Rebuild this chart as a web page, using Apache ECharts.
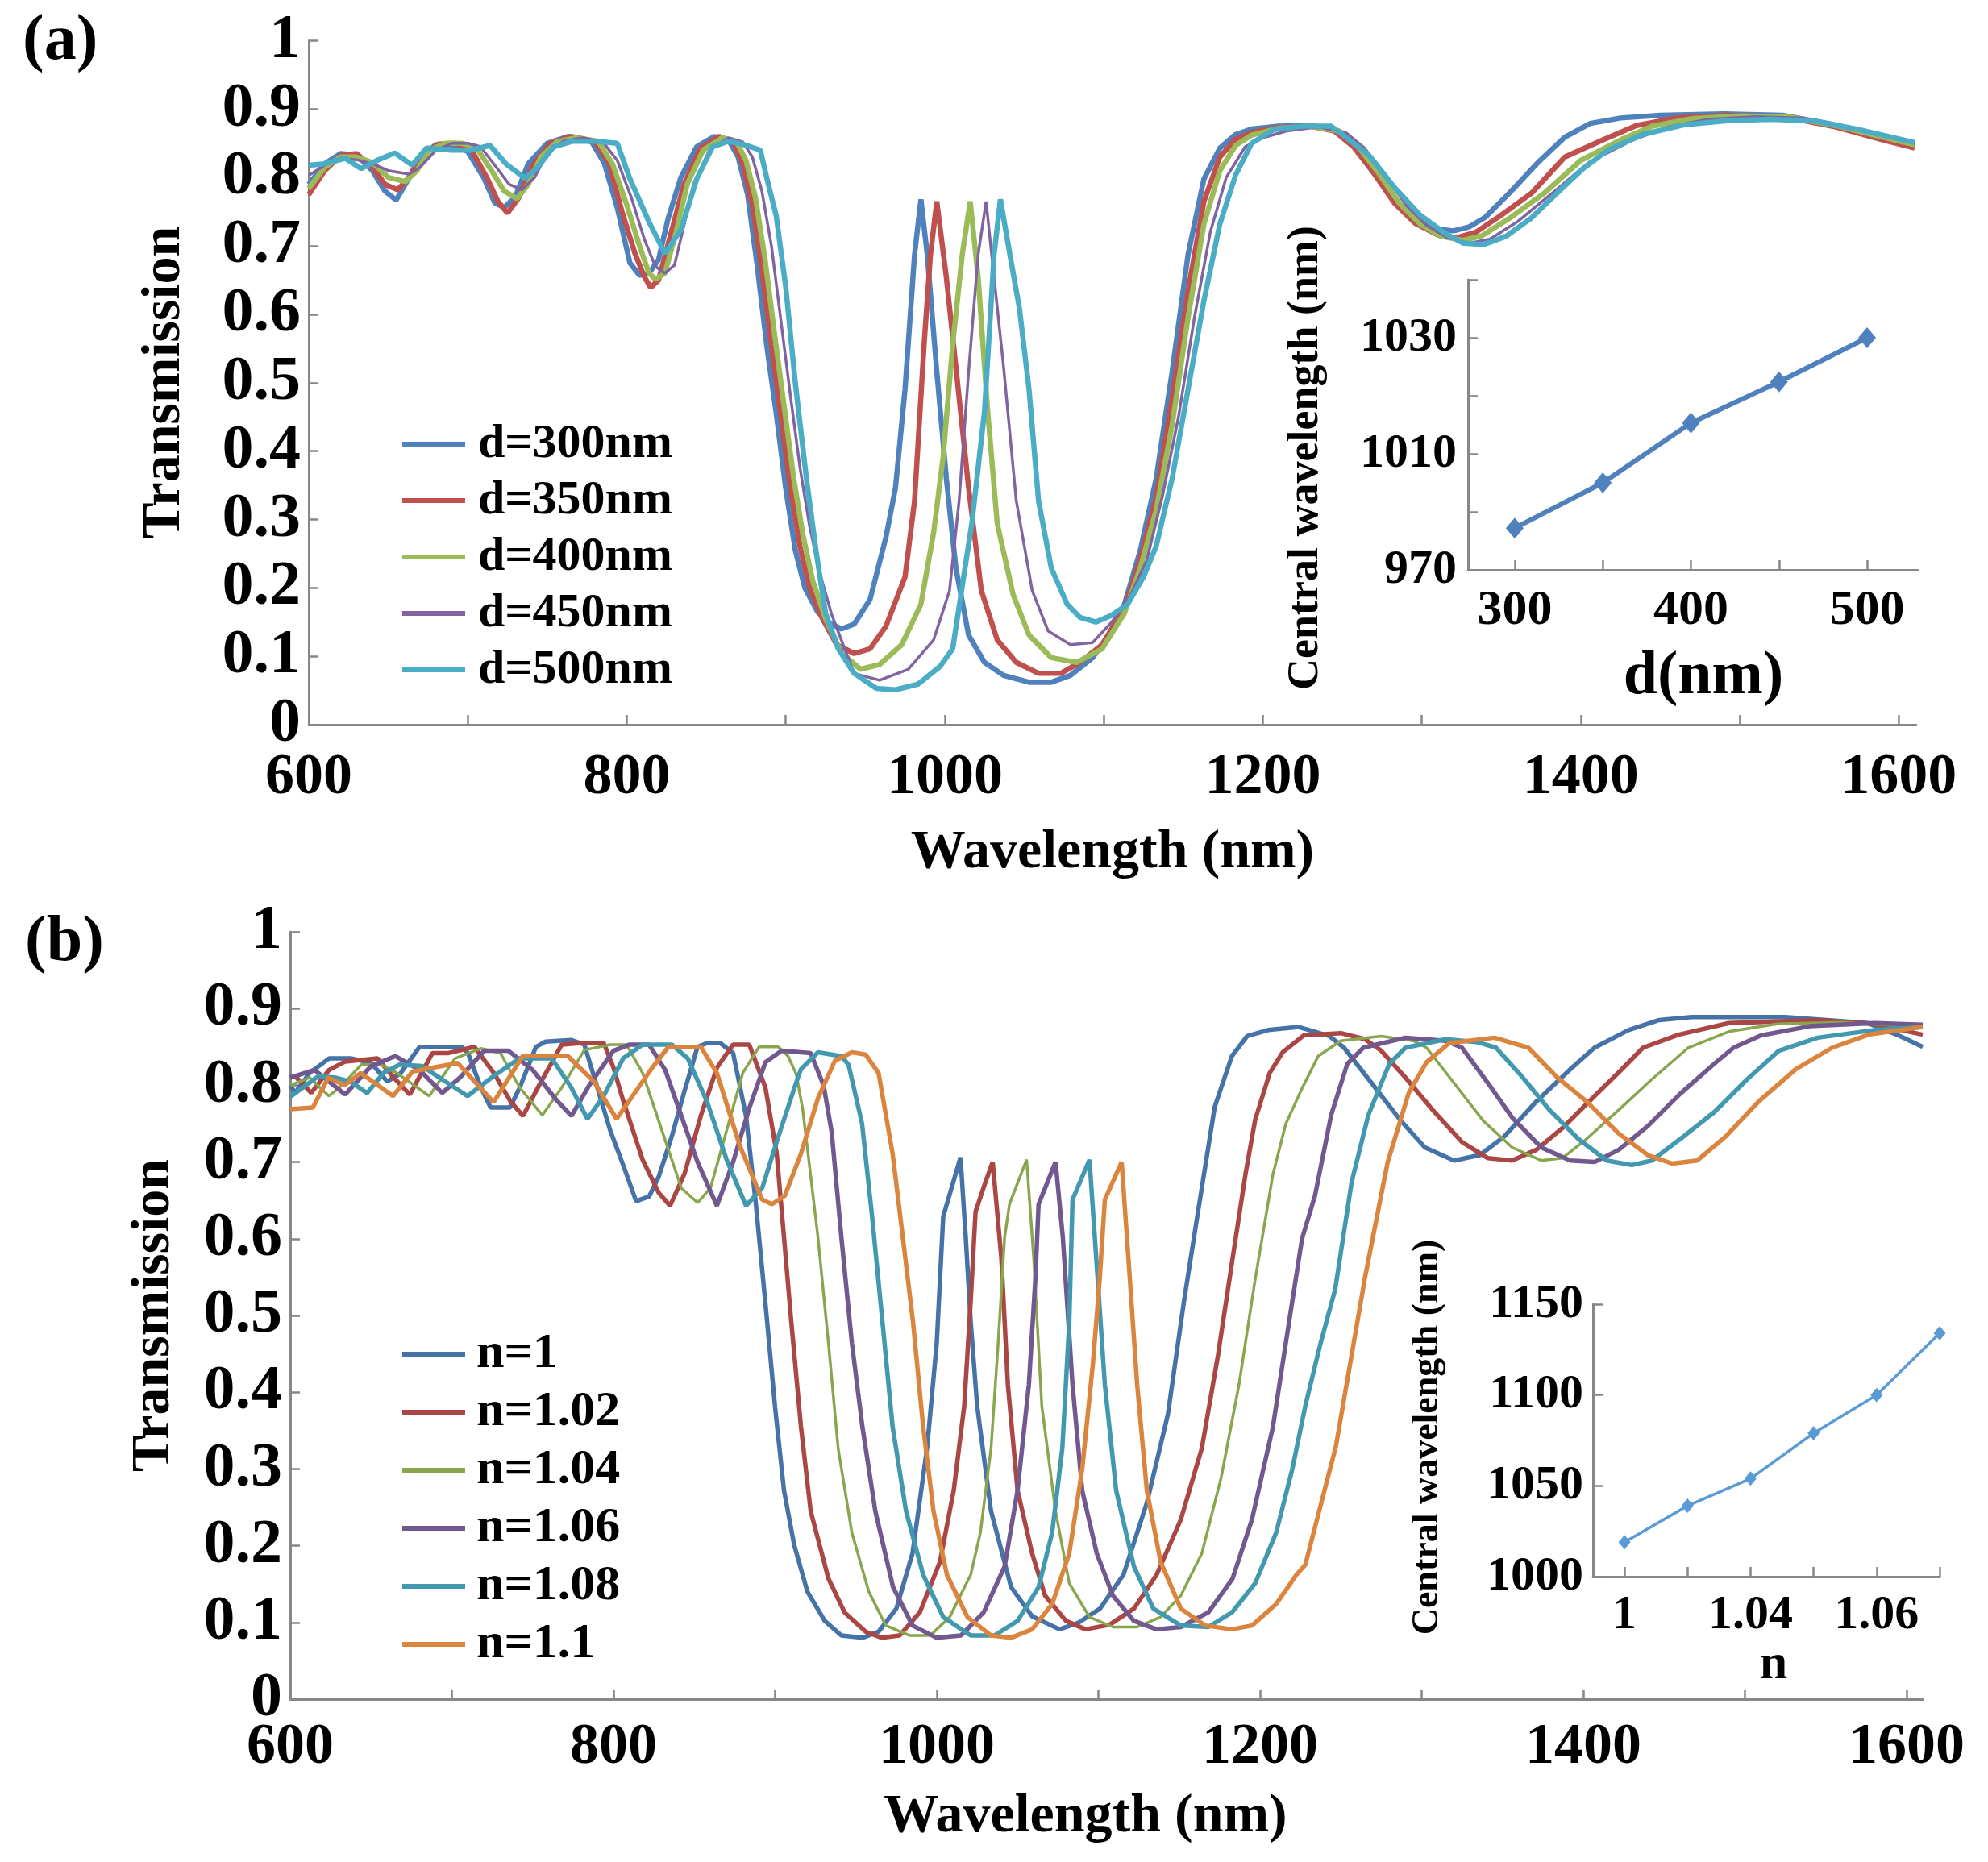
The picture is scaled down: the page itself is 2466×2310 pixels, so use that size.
<!DOCTYPE html>
<html><head><meta charset="utf-8">
<script src="https://cdn.jsdelivr.net/npm/echarts@6/dist/echarts.min.js"></script>
<style>html,body{margin:0;padding:0;background:#fff}#c{width:2466px;height:2310px}</style>
</head><body><div id="c"></div>
<script>
// ---------- Panel (a): transmission vs wavelength for different d ----------
const a_d300 = [[600,0.79],[610,0.82],[620,0.835],[630,0.833],[640,0.81],[648,0.78],[655,0.767],[662,0.795],[670,0.83],[680,0.848],[690,0.848],[700,0.838],[710,0.80],[717,0.763],[723,0.756],[730,0.772],[738,0.82],[750,0.85],[763,0.86],[778,0.852],[786,0.82],[794,0.756],[802,0.675],[808,0.657],[814,0.66],[820,0.68],[826,0.74],[834,0.80],[844,0.845],[855,0.86],[864,0.855],[870,0.83],[876,0.775],[882,0.672],[888,0.555],[894,0.455],[900,0.345],[906,0.255],[912,0.20],[920,0.165],[928,0.148],[935,0.14],[943,0.147],[953,0.183],[963,0.274],[969,0.346],[975,0.49],[981,0.687],[985,0.768],[989,0.687],[995,0.516],[1001,0.36],[1007,0.229],[1015,0.131],[1025,0.091],[1037,0.072],[1053,0.062],[1067,0.062],[1079,0.072],[1093,0.098],[1103,0.131],[1113,0.176],[1123,0.255],[1133,0.36],[1143,0.516],[1153,0.687],[1163,0.798],[1173,0.843],[1183,0.863],[1193,0.871],[1210,0.875],[1230,0.876],[1245,0.87],[1258,0.845],[1270,0.806],[1283,0.765],[1296,0.737],[1308,0.725],[1320,0.722],[1330,0.728],[1340,0.742],[1355,0.777],[1374,0.824],[1390,0.859],[1406,0.879],[1425,0.887],[1450,0.891],[1490,0.893],[1527,0.891],[1560,0.877],[1586,0.861],[1610,0.85]];
const a_d350 = [[600,0.775],[610,0.81],[620,0.832],[630,0.835],[640,0.815],[648,0.79],[656,0.782],[663,0.80],[672,0.835],[682,0.849],[692,0.85],[702,0.842],[712,0.80],[719,0.765],[725,0.748],[732,0.77],[740,0.815],[752,0.85],[765,0.86],[780,0.853],[789,0.82],[797,0.75],[805,0.69],[811,0.655],[815,0.639],[820,0.65],[828,0.72],[836,0.79],[846,0.842],[858,0.86],[867,0.852],[873,0.82],[879,0.76],[885,0.665],[891,0.555],[897,0.45],[903,0.345],[909,0.26],[915,0.20],[922,0.16],[932,0.117],[943,0.104],[953,0.111],[963,0.144],[975,0.216],[981,0.327],[987,0.556],[991,0.687],[995,0.765],[1001,0.654],[1007,0.523],[1015,0.346],[1023,0.196],[1033,0.124],[1045,0.091],[1059,0.075],[1073,0.075],[1085,0.091],[1099,0.117],[1113,0.17],[1123,0.242],[1133,0.333],[1143,0.477],[1153,0.634],[1163,0.765],[1173,0.83],[1183,0.856],[1193,0.866],[1210,0.873],[1230,0.875],[1245,0.868],[1257,0.845],[1270,0.806],[1283,0.762],[1296,0.733],[1310,0.716],[1322,0.712],[1334,0.72],[1350,0.745],[1369,0.777],[1390,0.83],[1414,0.855],[1435,0.876],[1460,0.887],[1490,0.891],[1527,0.889],[1560,0.874],[1590,0.855],[1610,0.843]];
const a_d400 = [[600,0.784],[610,0.815],[620,0.83],[630,0.83],[640,0.822],[650,0.80],[661,0.794],[668,0.81],[676,0.84],[686,0.85],[696,0.85],[705,0.845],[715,0.81],[723,0.78],[731,0.769],[738,0.79],[746,0.83],[756,0.852],[768,0.858],[782,0.853],[791,0.82],[800,0.76],[808,0.70],[814,0.66],[818,0.651],[824,0.66],[831,0.72],[838,0.79],[848,0.84],[860,0.858],[869,0.852],[875,0.825],[881,0.77],[887,0.68],[893,0.57],[899,0.465],[905,0.36],[911,0.275],[917,0.21],[925,0.155],[935,0.105],[947,0.081],[959,0.088],[973,0.117],[985,0.176],[993,0.281],[999,0.392],[1005,0.556],[1011,0.687],[1016,0.765],[1021,0.654],[1027,0.458],[1033,0.294],[1043,0.19],[1053,0.131],[1067,0.098],[1083,0.091],[1099,0.111],[1113,0.163],[1123,0.229],[1133,0.314],[1143,0.438],[1153,0.595],[1163,0.732],[1173,0.81],[1183,0.847],[1193,0.862],[1210,0.872],[1230,0.875],[1248,0.868],[1260,0.845],[1273,0.806],[1286,0.762],[1299,0.732],[1312,0.714],[1326,0.708],[1338,0.715],[1355,0.74],[1377,0.777],[1400,0.825],[1425,0.855],[1445,0.875],[1470,0.886],[1500,0.89],[1530,0.889],[1560,0.876],[1590,0.859],[1610,0.848]];
const a_d450 = [[600,0.803],[610,0.818],[620,0.828],[630,0.826],[640,0.82],[650,0.81],[663,0.805],[670,0.815],[680,0.84],[690,0.85],[700,0.85],[708,0.845],[718,0.815],[726,0.79],[734,0.782],[742,0.80],[750,0.835],[760,0.853],[772,0.858],[785,0.852],[794,0.825],[803,0.77],[811,0.71],[818,0.67],[824,0.66],[830,0.672],[836,0.73],[842,0.79],[852,0.84],[864,0.858],[873,0.852],[879,0.83],[885,0.78],[891,0.70],[897,0.59],[903,0.48],[909,0.375],[915,0.29],[921,0.225],[929,0.16],[943,0.075],[959,0.065],[977,0.081],[993,0.124],[1003,0.196],[1009,0.327],[1015,0.516],[1021,0.687],[1026,0.765],[1031,0.654],[1037,0.523],[1045,0.327],[1055,0.196],[1065,0.137],[1079,0.117],[1093,0.12],[1105,0.15],[1117,0.19],[1127,0.24],[1137,0.335],[1147,0.45],[1157,0.595],[1167,0.72],[1177,0.80],[1189,0.845],[1200,0.858],[1215,0.868],[1235,0.874],[1252,0.866],[1264,0.843],[1277,0.804],[1290,0.76],[1303,0.73],[1316,0.712],[1330,0.704],[1343,0.71],[1360,0.735],[1382,0.777],[1405,0.822],[1433,0.855],[1455,0.874],[1480,0.885],[1510,0.889],[1540,0.887],[1570,0.872],[1610,0.85]];
const a_d500 = [[600,0.818],[610,0.82],[623,0.828],[633,0.813],[643,0.825],[654,0.836],[665,0.818],[674,0.843],[690,0.84],[702,0.84],[714,0.847],[724,0.82],[736,0.799],[744,0.815],[754,0.845],[766,0.853],[780,0.853],[794,0.85],[802,0.798],[814,0.735],[824,0.689],[834,0.723],[844,0.798],[854,0.845],[864,0.853],[874,0.848],[884,0.84],[888,0.80],[894,0.744],[900,0.64],[906,0.50],[913,0.36],[919,0.255],[925,0.163],[933,0.111],[943,0.075],[957,0.053],[969,0.051],[983,0.059],[997,0.085],[1005,0.111],[1017,0.294],[1025,0.458],[1031,0.687],[1035,0.768],[1041,0.687],[1047,0.608],[1053,0.49],[1059,0.327],[1067,0.229],[1077,0.176],[1085,0.157],[1095,0.15],[1105,0.16],[1115,0.176],[1125,0.216],[1133,0.261],[1143,0.36],[1153,0.49],[1163,0.62],[1173,0.732],[1183,0.804],[1193,0.85],[1207,0.87],[1225,0.875],[1243,0.875],[1250,0.863],[1267,0.832],[1283,0.785],[1299,0.745],[1315,0.718],[1326,0.704],[1339,0.702],[1353,0.714],[1369,0.741],[1385,0.777],[1401,0.812],[1417,0.84],[1439,0.863],[1465,0.877],[1492,0.883],[1519,0.885],[1546,0.883],[1573,0.871],[1610,0.851]];

// ---------- Panel (b): transmission vs wavelength for different n ----------
const b_n100 = [[600,0.80],[603,0.79],[612,0.816],[624,0.835],[638,0.835],[650,0.829],[660,0.805],[668,0.815],[680,0.85],[706,0.85],[710,0.842],[718,0.797],[724,0.771],[736,0.771],[742,0.797],[752,0.85],[758,0.857],[774,0.859],[782,0.853],[790,0.797],[798,0.741],[806,0.696],[814,0.649],[822,0.655],[828,0.681],[836,0.733],[844,0.793],[852,0.85],[858,0.855],[866,0.855],[874,0.842],[882,0.76],[888,0.647],[894,0.516],[900,0.38],[905.5,0.272],[911.8,0.201],[920,0.14],[930.7,0.102],[941,0.083],[954,0.08],[964,0.088],[975,0.118],[985,0.19],[994,0.327],[1000,0.464],[1004,0.629],[1014.7,0.706],[1018,0.60],[1021,0.492],[1025,0.382],[1033.6,0.245],[1046,0.146],[1059,0.108],[1076,0.091],[1088,0.1],[1101,0.118],[1115.5,0.162],[1130,0.256],[1143,0.371],[1153,0.519],[1162,0.64],[1172,0.772],[1182.6,0.838],[1192,0.864],[1205,0.872],[1224,0.876],[1243,0.864],[1252,0.849],[1269,0.803],[1287,0.754],[1302,0.719],[1320,0.702],[1336,0.709],[1351,0.733],[1371,0.779],[1392,0.821],[1407,0.849],[1428,0.872],[1447,0.885],[1467,0.889],[1525,0.889],[1576,0.881],[1595,0.865],[1610,0.85]];
const b_n102 = [[600,0.81],[603,0.812],[613,0.79],[624,0.82],[634,0.831],[654,0.835],[664,0.81],[674,0.788],[688,0.842],[698,0.842],[714,0.85],[726,0.816],[736,0.78],[744,0.76],[754,0.80],[768,0.853],[780,0.855],[794,0.855],[800,0.823],[806,0.78],[818,0.703],[828,0.66],[835,0.643],[844,0.685],[854,0.76],[864,0.823],[874,0.853],[884,0.853],[894,0.797],[901,0.711],[905.5,0.602],[910,0.492],[916,0.355],[922,0.245],[933,0.157],[943,0.113],[956,0.088],[966,0.08],[977,0.083],[989.5,0.113],[1002,0.179],[1010.5,0.272],[1017,0.382],[1021,0.519],[1024,0.635],[1029,0.667],[1034.6,0.70],[1040,0.574],[1044,0.41],[1050,0.272],[1059,0.19],[1067,0.135],[1080,0.102],[1092,0.091],[1107,0.097],[1122,0.118],[1136,0.162],[1151,0.234],[1164,0.327],[1174,0.448],[1183,0.574],[1191,0.684],[1197,0.755],[1206,0.816],[1214,0.843],[1227,0.865],[1250,0.868],[1265,0.86],[1275,0.845],[1290,0.81],[1308,0.765],[1325,0.726],[1341,0.705],[1356,0.702],[1371,0.716],[1387,0.744],[1407,0.786],[1422,0.817],[1437,0.849],[1459,0.866],[1490,0.881],[1545,0.885],[1580,0.88],[1610,0.866]];
const b_n104 = [[600,0.80],[612,0.81],[624,0.786],[632,0.80],[644,0.827],[656,0.827],[666,0.816],[686,0.786],[702,0.835],[718,0.848],[730,0.842],[742,0.797],[756,0.761],[768,0.797],[782,0.846],[798,0.853],[808,0.853],[818,0.816],[830,0.741],[842,0.666],[852,0.647],[860,0.666],[870,0.741],[880,0.816],[890,0.85],[902,0.85],[908,0.838],[913,0.815],[917,0.77],[921,0.70],[926.5,0.602],[933,0.464],[939,0.327],[947.5,0.217],[958,0.14],[968.5,0.096],[983,0.083],[996,0.083],[1008,0.107],[1021,0.162],[1027,0.217],[1033.6,0.327],[1038,0.464],[1042,0.602],[1045,0.645],[1055.6,0.703],[1060,0.574],[1065,0.382],[1073.5,0.245],[1082,0.151],[1094.5,0.107],[1109,0.094],[1124,0.094],[1138.5,0.107],[1151,0.135],[1164,0.19],[1176,0.289],[1187,0.41],[1197,0.547],[1208,0.684],[1216,0.75],[1226,0.796],[1236,0.838],[1250,0.858],[1275,0.864],[1295,0.858],[1303,0.849],[1320,0.803],[1338,0.754],[1356,0.719],[1374,0.702],[1387,0.705],[1402,0.73],[1422,0.768],[1442,0.807],[1465,0.849],[1490,0.87],[1520,0.88],[1560,0.882],[1610,0.876]];
const b_n106 = [[600,0.81],[615,0.82],[634,0.788],[650,0.825],[665,0.838],[680,0.82],[694,0.79],[705,0.81],[720,0.845],[735,0.845],[750,0.82],[765,0.78],[774,0.76],[785,0.80],[800,0.845],[810,0.853],[822,0.853],[832,0.82],[842,0.76],[852,0.70],[864,0.643],[874,0.70],[884,0.77],[894,0.83],[904,0.845],[922,0.842],[930,0.80],[935,0.739],[941,0.602],[947.5,0.464],[954,0.355],[962,0.245],[973,0.146],[985,0.096],[1000,0.08],[1015,0.083],[1029,0.113],[1042,0.173],[1050,0.272],[1057,0.41],[1061,0.547],[1063,0.645],[1073.5,0.70],[1078,0.602],[1084,0.41],[1090,0.272],[1099,0.19],[1109,0.135],[1122,0.102],[1136,0.091],[1151,0.094],[1168,0.113],[1183,0.157],[1195,0.234],[1208,0.355],[1218,0.492],[1226,0.60],[1234,0.656],[1244,0.761],[1254,0.828],[1264,0.849],[1290,0.862],[1315,0.858],[1325,0.849],[1341,0.803],[1356,0.758],[1374,0.719],[1392,0.702],[1407,0.70],[1422,0.716],[1440,0.747],[1460,0.789],[1481,0.828],[1493,0.849],[1510,0.865],[1540,0.877],[1580,0.881],[1610,0.879]];
const b_n108 = [[600,0.785],[617.5,0.812],[628,0.81],[637,0.805],[647.6,0.79],[657.6,0.816],[667.6,0.827],[681.7,0.825],[693.7,0.808],[709.7,0.786],[725.8,0.812],[741.8,0.835],[761.8,0.835],[773.9,0.797],[783.9,0.756],[793.9,0.786],[806,0.835],[818,0.853],[836,0.853],[846,0.835],[858,0.778],[870,0.703],[882,0.643],[892,0.666],[902,0.733],[912,0.797],[916,0.821],[926.5,0.843],[941,0.838],[945.4,0.827],[953.8,0.75],[960,0.629],[966.4,0.492],[972.7,0.355],[981,0.245],[991.6,0.162],[1004,0.107],[1021,0.083],[1035.7,0.083],[1050,0.102],[1063,0.146],[1071.4,0.217],[1077.7,0.327],[1082,0.492],[1084,0.651],[1094.5,0.703],[1098.7,0.574],[1104,0.41],[1111,0.272],[1122,0.173],[1134,0.118],[1151,0.096],[1168,0.094],[1182.6,0.113],[1197,0.151],[1210,0.217],[1220,0.30],[1228,0.382],[1237,0.46],[1246.5,0.534],[1256.7,0.674],[1267,0.761],[1280,0.828],[1290,0.849],[1315,0.86],[1335,0.856],[1346,0.849],[1361,0.814],[1379,0.768],[1397,0.73],[1414.5,0.702],[1430,0.696],[1442.5,0.702],[1460,0.73],[1481,0.765],[1501,0.807],[1521,0.845],[1545,0.862],[1580,0.872],[1610,0.876]];
const b_n110 = [[600,0.769],[614,0.771],[623.6,0.81],[633.6,0.80],[643.6,0.816],[663.6,0.786],[675.7,0.818],[703.7,0.829],[725.8,0.778],[743.8,0.838],[771.8,0.838],[787.9,0.805],[801.9,0.756],[824,0.823],[834,0.85],[854,0.85],[864,0.816],[878,0.722],[892,0.651],[898,0.645],[906,0.656],[916,0.711],[926.5,0.783],[937,0.832],[947.5,0.843],[956,0.84],[964,0.816],[972.7,0.711],[979,0.602],[985.3,0.492],[991.6,0.355],[998,0.245],[1006.3,0.162],[1019,0.107],[1033.6,0.083],[1046,0.08],[1059,0.091],[1071.4,0.124],[1082,0.19],[1090,0.30],[1096.6,0.437],[1100.8,0.547],[1104,0.651],[1114.4,0.70],[1118.6,0.574],[1124,0.41],[1130,0.272],[1138.5,0.179],[1151,0.118],[1166,0.096],[1182.6,0.091],[1195,0.096],[1210,0.124],[1222.5,0.162],[1228,0.175],[1247,0.33],[1265,0.55],[1279,0.70],[1292,0.79],[1303,0.83],[1317,0.855],[1345,0.862],[1366,0.849],[1384,0.81],[1402,0.779],[1422,0.737],[1440,0.709],[1455,0.698],[1470.5,0.702],[1488,0.733],[1508.6,0.779],[1531.5,0.821],[1554,0.849],[1576.5,0.866],[1610,0.876]];

// ---------- Insets ----------
const insetA_d = [300, 350, 400, 450, 500];
const insetA_lambda = [997.2, 1005, 1015.3, 1022.4, 1030];
const insetB_n = [1, 1.02, 1.04, 1.06, 1.08, 1.1];
const insetB_lambda = [1019, 1039, 1054, 1079, 1100, 1134];

// ---------- Tick values / tick label text ----------
const wlTicks = [600, 700, 800, 900, 1000, 1100, 1200, 1300, 1400, 1500, 1600];
const wlLabels = [600, 800, 1000, 1200, 1400, 1600];
const insetA_xTicks = [300, 350, 400, 450, 500];
const insetA_xLabels = [300, 400, 500];
const insetA_yLabelValues = [990, 1010, 1030];
const insetA_yLabelText = ['970', '1010', '1030'];
const insetB_xTicks = [1, 1.02, 1.04, 1.06, 1.08, 1.1];
const insetB_xLabelValues = [1, 1.04, 1.08];
const insetB_xLabelText = ['1', '1.04', '1.06'];

const namesA = ['d=300nm', 'd=350nm', 'd=400nm', 'd=450nm', 'd=500nm'];
const namesB = ['n=1', 'n=1.02', 'n=1.04', 'n=1.06', 'n=1.08', 'n=1.1'];

const colorsA = ['#4F81BD', '#C0504D', '#9BBB59', '#8064A2', '#4BACC6'];
const colorsB = ['#4572A7', '#AA4643', '#89A54E', '#71588F', '#4198AF', '#DB843D'];

const FONT = "'Liberation Serif', 'Times New Roman', serif";
const AXIS_COLOR = '#878787';

function lab(size, extra) {
  return Object.assign({ fontFamily: FONT, fontWeight: 'bold', fontSize: size, color: '#000' }, extra || {});
}
function mapLabel(values, texts) {
  return function (v) {
    for (let i = 0; i < values.length; i++) if (Math.abs(v - values[i]) < 1e-6) return texts[i];
    return '';
  };
}
const plain = v => String(Math.round(v * 1000) / 1000);
const axLine = { show: true, onZero: false, lineStyle: { color: AXIS_COLOR, width: 3 } };

const chart = echarts.init(document.getElementById('c'), null, { renderer: 'canvas', width: 2466, height: 2310 });

const dataA = [a_d300, a_d350, a_d400, a_d450, a_d500];
const dataB = [b_n100, b_n102, b_n104, b_n106, b_n108, b_n110];
const widthA = [6.5, 6.5, 6.5, 3.5, 6.5];
const widthB = [5.5, 5.5, 3.5, 5.5, 5.5, 5.5];

const series = [];
dataA.forEach((d, i) => series.push({
  name: namesA[i], type: 'line', xAxisIndex: 0, yAxisIndex: 0, data: d,
  symbol: 'none', showSymbol: false, color: colorsA[i],
  lineStyle: { width: widthA[i], color: colorsA[i] }, z: 2
}));
dataB.forEach((d, i) => series.push({
  name: namesB[i], type: 'line', xAxisIndex: 1, yAxisIndex: 1, data: d,
  symbol: 'none', showSymbol: false, color: colorsB[i],
  lineStyle: { width: widthB[i], color: colorsB[i] }, z: 2
}));
series.push({
  name: 'insetA', type: 'line', xAxisIndex: 2, yAxisIndex: 2,
  data: insetA_d.map((d, i) => [d, insetA_lambda[i]]),
  symbol: 'diamond', symbolSize: [22, 26], color: '#4F81BD',
  lineStyle: { width: 6, color: '#4F81BD' }, itemStyle: { color: '#4F81BD' }, z: 3
});
series.push({
  name: 'insetB', type: 'line', xAxisIndex: 3, yAxisIndex: 3,
  data: insetB_n.map((n, i) => [n, insetB_lambda[i]]),
  symbol: 'diamond', symbolSize: [15, 18], color: '#5B9BD5',
  lineStyle: { width: 3.5, color: '#5B9BD5' }, itemStyle: { color: '#5B9BD5' }, z: 3
});

const option = {
  animation: false,
  backgroundColor: '#ffffff',
  grid: [
    { left: 383, top: 50.5, width: 1994, height: 848.5 },
    { left: 360, top: 1156, width: 2025, height: 952 },
    { left: 1821, top: 347, width: 558, height: 360 },
    { left: 1976, top: 1618, width: 430, height: 338 }
  ],
  xAxis: [
    { gridIndex: 0, type: 'value', min: 600, max: 1611,
      axisLine: axLine, splitLine: { show: false },
      axisTick: { inside: true, length: 12, customValues: wlTicks, lineStyle: { color: AXIS_COLOR, width: 2.5 } },
      axisLabel: lab(72, { margin: 30, customValues: wlLabels, formatter: plain }),
      name: 'Wavelength (nm)', nameLocation: 'middle', nameGap: 125, nameTextStyle: lab(68) },
    { gridIndex: 1, type: 'value', min: 600, max: 1610,
      axisLine: axLine, splitLine: { show: false },
      axisTick: { inside: true, length: 12, customValues: wlTicks, lineStyle: { color: AXIS_COLOR, width: 2.5 } },
      axisLabel: lab(72, { margin: 24, customValues: wlLabels, formatter: plain }),
      name: 'Wavelength (nm)', nameLocation: 'middle', nameGap: 112, nameTextStyle: lab(68, { padding: [0, 52, 0, 0] }) },
    { gridIndex: 2, type: 'value', min: 273.5, max: 528.8,
      axisLine: axLine, splitLine: { show: false },
      axisTick: { inside: true, length: 12, customValues: insetA_xTicks, lineStyle: { color: AXIS_COLOR, width: 2.5 } },
      axisLabel: lab(62, { margin: 20, customValues: insetA_xLabels, formatter: plain }),
      name: 'd(nm)', nameLocation: 'middle', nameGap: 95, nameTextStyle: lab(76, { padding: [0, 0, 0, 26] }) },
    { gridIndex: 3, type: 'value', min: 0.99, max: 1.1,
      axisLine: axLine, splitLine: { show: false },
      axisTick: { inside: true, length: 12, customValues: insetB_xTicks, lineStyle: { color: AXIS_COLOR, width: 2.5 } },
      axisLabel: lab(60, { margin: 18, customValues: insetB_xLabelValues, formatter: mapLabel(insetB_xLabelValues, insetB_xLabelText) }),
      name: 'n', nameLocation: 'middle', nameGap: 70, nameTextStyle: lab(62, { padding: [0, 0, 0, 18] }) }
  ],
  yAxis: [
    { gridIndex: 0, type: 'value', min: 0, max: 1, interval: 0.1,
      axisLine: axLine, splitLine: { show: false },
      axisTick: { show: true, inside: true, length: 12, lineStyle: { color: AXIS_COLOR, width: 2.5 } },
      axisLabel: lab(78, { margin: 10, formatter: plain }),
      name: 'Transmission', nameLocation: 'middle', nameGap: 145, nameRotate: 90, nameTextStyle: lab(68) },
    { gridIndex: 1, type: 'value', min: 0, max: 1, interval: 0.1,
      axisLine: axLine, splitLine: { show: false },
      axisTick: { show: true, inside: true, length: 12, lineStyle: { color: AXIS_COLOR, width: 2.5 } },
      axisLabel: lab(78, { margin: 10, formatter: plain }),
      name: 'Transmission', nameLocation: 'middle', nameGap: 135, nameRotate: 90, nameTextStyle: lab(68) },
    { gridIndex: 2, type: 'value', min: 990, max: 1040, interval: 10,
      axisLine: axLine, splitLine: { show: false },
      axisTick: { show: true, inside: true, length: 12, lineStyle: { color: AXIS_COLOR, width: 2.5 } },
      axisLabel: lab(60, { margin: 14, customValues: insetA_yLabelValues, formatter: mapLabel(insetA_yLabelValues, insetA_yLabelText) }) },
    { gridIndex: 3, type: 'value', min: 1000, max: 1150, interval: 50,
      axisLine: axLine, splitLine: { show: false },
      axisTick: { show: true, inside: true, length: 12, lineStyle: { color: AXIS_COLOR, width: 2.5 } },
      axisLabel: lab(60, { margin: 12, formatter: plain }) }
  ],
  legend: [
    { data: namesA, orient: 'vertical', left: 494, top: 516, icon: 'rect', itemWidth: 78, itemHeight: 6, itemGap: 10,
      selectedMode: false, textStyle: lab(60, { lineHeight: 60, padding: [0, 0, 0, 11] }) },
    { data: namesB, orient: 'vertical', left: 494, top: 1644, icon: 'rect', itemWidth: 78, itemHeight: 6, itemGap: 10,
      selectedMode: false, textStyle: lab(62, { lineHeight: 62, padding: [0, 0, 0, 9] }) }
  ],
  graphic: [
    { type: 'text', left: 28, top: 12, style: { text: '(a)', font: "bold 80px 'Liberation Serif', serif", fill: '#000' } },
    { type: 'text', left: 31, top: 1130, style: { text: '(b)', font: "bold 80px 'Liberation Serif', serif", fill: '#000' } },
    { type: 'text', x: 1620, y: 568, rotation: Math.PI / 2,
      style: { text: 'Central wavelength (nm)', font: "bold 54px 'Liberation Serif', serif", fill: '#000', align: 'center', verticalAlign: 'middle' } },
    { type: 'text', x: 1771, y: 1783, rotation: Math.PI / 2,
      style: { text: 'Central wavelength (nm)', font: "bold 46px 'Liberation Serif', serif", fill: '#000', align: 'center', verticalAlign: 'middle' } }
  ],
  series: series
};
chart.setOption(option);
</script></body></html>
